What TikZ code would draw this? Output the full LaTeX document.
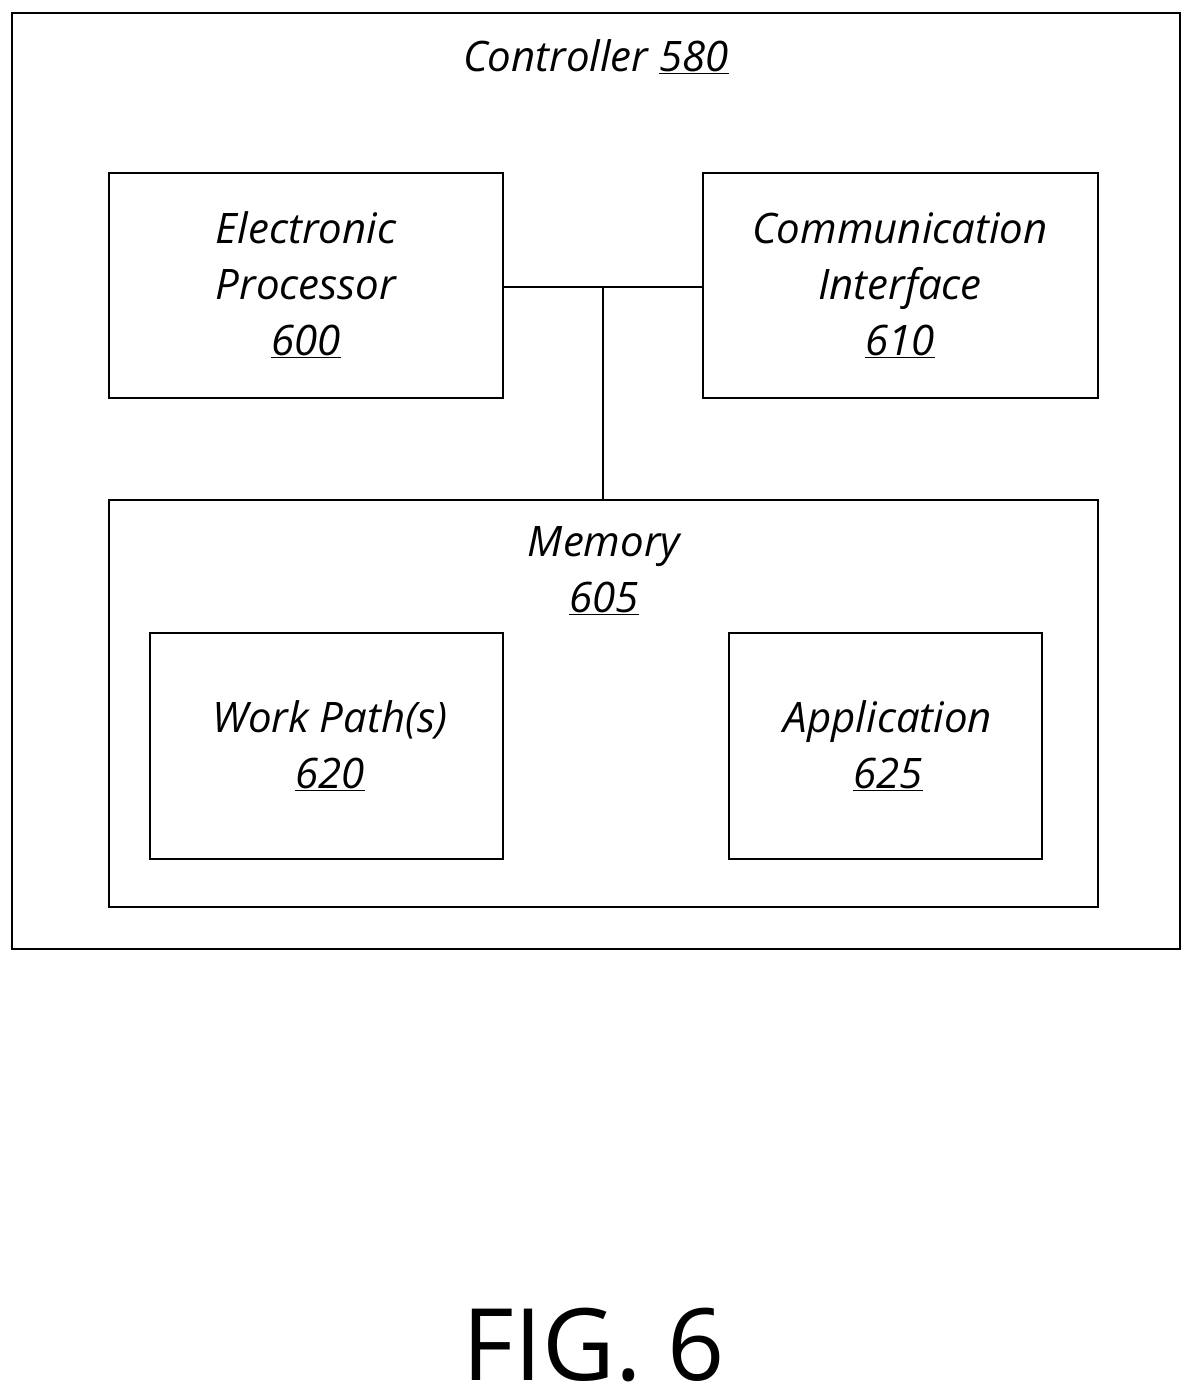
\documentclass[tikz,border=0pt]{standalone}
\usepackage{fontspec}
\setmainfont{Open Sans}
\begin{document}
\begin{tikzpicture}[x=1pt,y=-1pt,
  box/.style={draw,line width=2.5pt},
  lbl/.style={font=\fontsize{42}{56}\selectfont\itshape,align=center},
  line width=2.5pt]
\useasboundingbox (0,0) rectangle (1194,1397);
\draw[box] (12,13) rectangle (1180,949);
\node[lbl] (ctl) at (596,57) {Controller \underline{580}};
\draw[box] (109,173) rectangle (503,398);
\node[lbl] (ep) at (306,285) {Electronic\\Processor\\\underline{600}};
\draw[box] (703,173) rectangle (1098,398);
\node[lbl] (ci) at (900,285) {Communication\\Interface\\\underline{610}};
\draw[box] (109,500) rectangle (1098,907);
\node[lbl] (mem) at (604,571) {Memory\\\underline{605}};
\draw[box] (150,633) rectangle (503,859);
\node[lbl] (wp) at (330,746) {Work Path(s)\\\underline{620}};
\draw[box] (729,633) rectangle (1042,859);
\node[lbl] (app) at (888,746) {Application\\\underline{625}};
\coordinate (j) at (603,287);
\draw (503,287) -- (703,287);
\draw (j) -- (603,500);
\node[font=\fontsize{100}{100}\selectfont,anchor=base,inner sep=0pt,text depth=0pt] (fig) at (594,1380) {FIG. 6};
\end{tikzpicture}
\end{document}
